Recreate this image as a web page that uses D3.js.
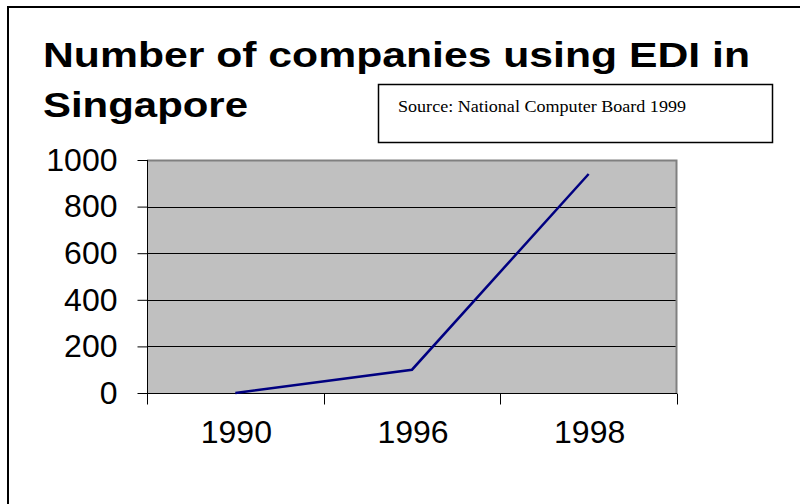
<!DOCTYPE html>
<html>
<head>
<meta charset="utf-8">
<script src="https://cdn.jsdelivr.net/npm/d3@7"></script>
<style>
  body { margin: 0; background: #fff; }
  text { font-family: "Liberation Sans", Arial, sans-serif; fill: #000; }
</style>
</head>
<body>
<script>
var years = ['1990', '1996', '1998'];
var companies = [0, 100, 940];
var yTicks = [0, 200, 400, 600, 800, 1000];

var w = 800, h = 504;
var plotLeft = 147, plotRight = 677, plotTop = 160, plotBottom = 393;

var svg = d3.select('body').append('svg')
  .attr('width', w)
  .attr('height', h);

// frame round the slide
svg.append('path')
  .attr('d', 'M8,504 V7 H800')
  .attr('fill', 'none')
  .attr('stroke', '#000')
  .attr('stroke-width', 2);

// title
svg.append('text')
  .attr('x', 43).attr('y', 67)
  .attr('font-size', 35).attr('font-weight', 'bold')
  .attr('textLength', 707).attr('lengthAdjust', 'spacingAndGlyphs')
  .text('Number of companies using EDI in');
svg.append('text')
  .attr('x', 43).attr('y', 117)
  .attr('font-size', 35).attr('font-weight', 'bold')
  .attr('textLength', 205).attr('lengthAdjust', 'spacingAndGlyphs')
  .text('Singapore');

// source box
svg.append('rect')
  .attr('x', 378.5).attr('y', 84.5)
  .attr('width', 394).attr('height', 58)
  .attr('fill', '#fff')
  .attr('stroke', '#000')
  .attr('stroke-width', 1.5);
svg.append('text')
  .attr('x', 398).attr('y', 112)
  .attr('font-size', 16)
  .style('font-family', '"Liberation Serif", "Times New Roman", serif')
  .attr('textLength', 288).attr('lengthAdjust', 'spacingAndGlyphs')
  .text('Source: National Computer Board 1999');

var x = d3.scaleBand().domain(years).range([plotLeft, plotRight]).padding(0);
var y = d3.scaleLinear().domain([0, 1000]).range([plotBottom, plotTop]);

// plot area
svg.append('rect')
  .attr('x', plotLeft).attr('y', plotTop)
  .attr('width', plotRight - plotLeft).attr('height', plotBottom - plotTop)
  .attr('fill', '#c0c0c0');

// gridlines
svg.selectAll('.grid')
  .data(yTicks.filter(function(d) { return d > 0 && d < 1000; }))
  .enter().append('line')
  .attr('x1', plotLeft).attr('x2', plotRight)
  .attr('y1', function(d) { return Math.round(y(d)) + 0.5; })
  .attr('y2', function(d) { return Math.round(y(d)) + 0.5; })
  .attr('stroke', '#000')
  .attr('stroke-width', 1);

// gray border top and right
svg.append('path')
  .attr('d', 'M' + plotLeft + ',' + (plotTop + 0.5) + ' H' + (plotRight - 0.5) + ' V' + plotBottom)
  .attr('fill', 'none')
  .attr('stroke', '#808080')
  .attr('stroke-width', 2);

// y axis
var yAxis = svg.append('g')
  .attr('transform', 'translate(' + (plotLeft + 0.5) + ',0)')
  .call(d3.axisLeft(y).tickValues(yTicks).tickFormat(d3.format('d'))
    .tickSize(10).tickPadding(20).tickSizeOuter(0));
yAxis.select('.domain').attr('d', 'M0,' + plotTop + ' V' + (plotBottom + 11));
yAxis.selectAll('text')
  .attr('font-size', 32)
  .style('font-family', '"Liberation Sans", Arial, sans-serif');

// x axis
var xAxis = svg.append('g')
  .attr('transform', 'translate(0,' + (plotBottom + 0.5) + ')');
xAxis.append('line')
  .attr('x1', plotLeft).attr('x2', plotRight)
  .attr('stroke', '#000');
var bounds = years.map(function(d) { return x(d); }).concat([x.range()[1]]);
xAxis.selectAll('.tk')
  .data(bounds)
  .enter().append('line')
  .attr('x1', function(d) { return Math.round(d) + 0.5; })
  .attr('x2', function(d) { return Math.round(d) + 0.5; })
  .attr('y1', 0).attr('y2', 11)
  .attr('stroke', '#000');
xAxis.selectAll('.lbl')
  .data(years)
  .enter().append('text')
  .attr('x', function(d) { return x(d) + x.bandwidth() / 2 + 1; })
  .attr('y', 49)
  .attr('text-anchor', 'middle')
  .attr('font-size', 32)
  .text(function(d) { return d; });

// series line
var line = d3.line()
  .x(function(d, i) { return x(years[i]) + x.bandwidth() / 2; })
  .y(function(d) { return y(d); });
svg.append('path')
  .datum(companies)
  .attr('d', line)
  .attr('fill', 'none')
  .attr('stroke', '#000080')
  .attr('stroke-width', 2.5);
</script>
</body>
</html>
